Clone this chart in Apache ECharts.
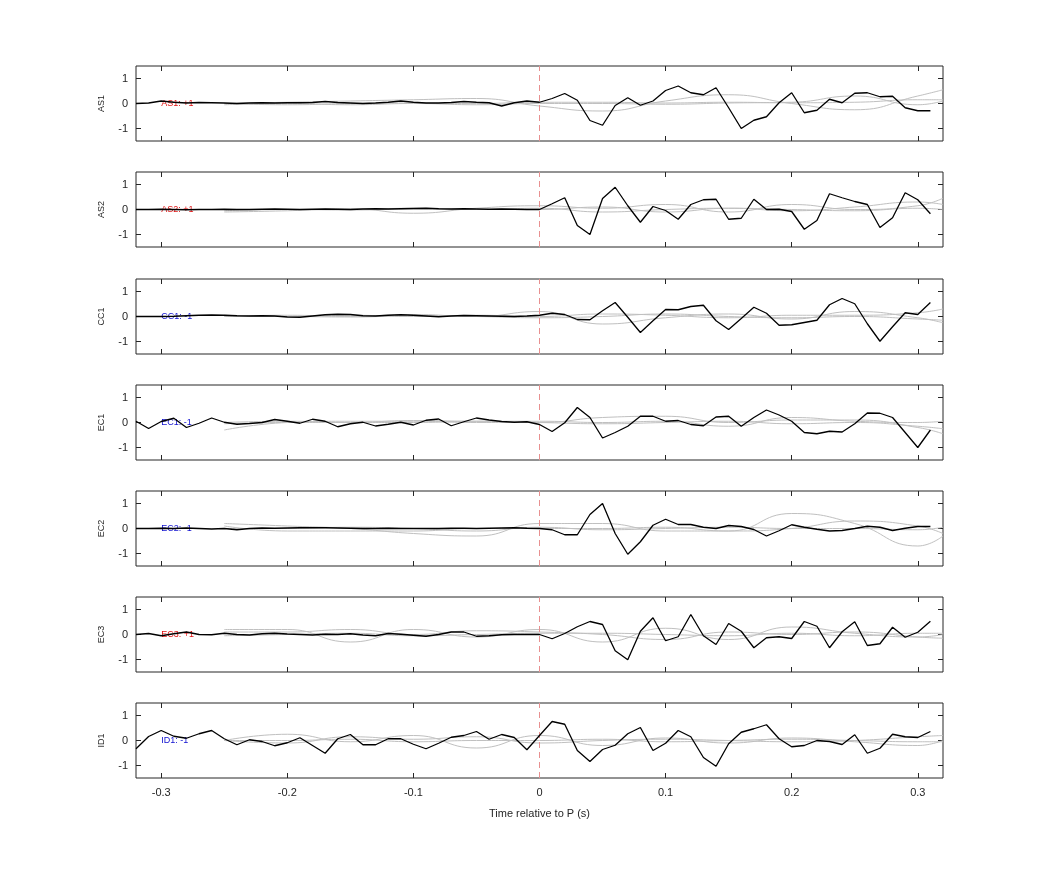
<!DOCTYPE html>
<html><head><meta charset="utf-8">
<script src="https://cdn.jsdelivr.net/npm/echarts@6/dist/echarts.min.js"></script>
<style>html,body{margin:0;padding:0;background:#fff}#c{width:1042px;height:875px}</style>
</head><body><div id="c"></div>
<script>
const times = []; for (let i = -32; i <= 31; i++) times.push(i / 100);
const stations = ['AS1','AS2','CC1','EC1','EC2','EC3','ID1'];
const polarity = ['+1','+1','-1','-1','-1','+1','-1'];
const xTicks = [-0.3,-0.2,-0.1,0,0.1,0.2,0.3];
const yTicks = [-1,0,1];
const grayT = [-0.25,-0.2,-0.15,-0.1,-0.05,0,0.05,0.1,0.15,0.2,0.25,0.3,0.32];

const AS1 = [0,0.02,0.1,0.05,0.02,0.04,0.03,0.02,0,0.02,0.03,0.02,0.03,0.03,0.04,0.08,0.04,0.02,0,0.02,0.05,0.1,0.05,0.02,0.02,0.04,0.08,0.05,0.03,-0.1,0.03,0.1,
 0.05,0.2,0.4,0.13,-0.68,-0.87,-0.08,0.23,-0.07,0.1,0.52,0.7,0.43,0.35,0.63,-0.17,-1.0,-0.67,-0.53,0.03,0.43,-0.37,-0.27,0.17,0.03,0.41,0.43,0.27,0.29,-0.17,-0.29,-0.29];
const AS2 = [0,0,0.01,0,-0.01,0,0,0.01,0,0,0.01,0.02,0.01,0,0.01,0.02,0.01,0,0.02,0.03,0.02,0.03,0.04,0.05,0.03,0.02,0.03,0.02,0.01,0.02,0.01,0,
 0,0.23,0.47,-0.64,-1.0,0.44,0.89,0.15,-0.51,0.12,-0.04,-0.39,0.2,0.39,0.41,-0.39,-0.35,0.41,0,0.01,-0.08,-0.79,-0.44,0.63,0.47,0.32,0.2,-0.72,-0.33,0.67,0.39,-0.17];
const CC1 = [0,0,0,0.01,0.03,0.05,0.06,0.05,0.03,0.02,0.03,0.02,-0.02,-0.03,0.02,0.07,0.09,0.08,0.03,0.02,0.05,0.07,0.05,0.02,-0.01,0.02,0.04,0.03,0.02,0.01,0,0.02,
 0.05,0.13,0.08,-0.12,-0.13,0.23,0.56,-0.03,-0.64,-0.17,0.28,0.27,0.4,0.45,-0.17,-0.52,-0.08,0.37,0.13,-0.35,-0.33,-0.24,-0.15,0.47,0.72,0.51,-0.29,-0.99,-0.41,0.15,0.08,0.56];
const EC1 = [0.05,-0.24,0.04,0.17,-0.2,-0.03,0.18,0.01,-0.07,-0.04,0,0.12,0.05,-0.03,0.13,0.05,-0.17,-0.05,0.01,-0.14,-0.07,0.01,-0.1,0.09,0.14,-0.13,0.03,0.18,0.1,0.04,0.01,0.03,
 -0.08,-0.36,-0.01,0.6,0.2,-0.62,-0.4,-0.15,0.25,0.25,0.05,0.08,-0.08,-0.13,0.22,0.25,-0.15,0.2,0.5,0.3,0.05,-0.4,-0.45,-0.35,-0.38,-0.05,0.38,0.37,0.2,-0.4,-1.0,-0.3];
const EC2 = [0,0,0.01,0,0.02,0,-0.02,0,-0.05,0,0.02,0.01,0.02,0.03,0.03,0.03,0.02,0.01,0,0,0.01,0,0,0,0,0.01,0.01,0,0.01,0.02,0.03,0.01,
 0,-0.05,-0.25,-0.25,0.56,1.0,-0.2,-1.03,-0.53,0.13,0.37,0.16,0.16,0.05,0,0.12,0.08,-0.04,-0.3,-0.09,0.15,0.05,-0.03,-0.1,-0.08,0,0.09,0.05,-0.08,0.01,0.08,0.08];
const EC3 = [0,0.04,-0.05,0.03,0.1,0,-0.01,0.05,0,-0.02,0.03,0.05,0.02,0,-0.02,0.01,0,0.03,-0.02,-0.05,0.04,0.01,-0.03,-0.07,0,0.1,0.1,-0.07,-0.05,-0.01,0,0,
 0,-0.17,0.04,0.31,0.52,0.4,-0.65,-1.01,0.13,0.67,-0.25,-0.09,0.8,-0.05,-0.4,0.44,0.13,-0.53,-0.13,-0.09,-0.16,0.52,0.33,-0.53,0.11,0.51,-0.44,-0.37,0.29,-0.11,0.09,0.53];
const ID1 = [-0.33,0.16,0.4,0.17,0.09,0.27,0.4,0.07,-0.17,0.03,-0.04,-0.21,-0.09,0.11,-0.2,-0.51,0.07,0.24,-0.17,-0.17,0.07,0.07,-0.15,-0.33,-0.11,0.13,0.2,0.36,0.05,0.24,0.12,-0.37,
 0.2,0.76,0.65,-0.4,-0.84,-0.36,-0.19,0.27,0.52,-0.4,-0.11,0.4,0.15,-0.68,-1.03,-0.13,0.33,0.47,0.63,0.07,-0.25,-0.2,0,-0.04,-0.16,0.23,-0.51,-0.31,0.25,0.15,0.12,0.36];
const black = [AS1,AS2,CC1,EC1,EC2,EC3,ID1];

const grayAS1 = [[0,0.05,0.1,0.15,0.2,-0.1,-0.3,0.1,0.35,0,-0.25,0.3,0.55],[0,-0.05,0,0.02,0,0.05,0.05,0.02,0.05,0.03,0.05,0.15,0.15],[-0.05,0,-0.05,0,-0.05,0,0,-0.03,0.02,0.05,0.3,-0.05,0.1]];
const grayAS2 = [[-0.1,-0.05,0.03,-0.15,0.05,0.15,0.05,0.2,-0.1,0.2,0,0.15,0.45],[-0.05,0,0,0.05,0,0.05,-0.1,0,0.05,-0.05,0.1,0.3,0.2],[0,0,-0.02,0.02,0,0,0.1,-0.1,0.05,0,-0.05,0.05,0]];
const grayCC1 = [[0,0.05,0,0.08,0,0.2,-0.3,-0.05,0.1,-0.1,0.2,-0.05,-0.25],[0.05,0,0.05,0,0.05,0,0.1,0.05,-0.05,0.05,0.05,0.15,0.3],[0,0,-0.02,0.03,0,-0.05,0,0.1,0,-0.05,0,-0.1,-0.15]];
const grayEC1 = [[-0.3,0,0.05,0.05,0,0,0.2,0.25,0,0.1,0.1,-0.2,-0.45],[-0.05,0,0,0.08,0.05,0.05,0,0.05,-0.15,0.2,0.05,0,0.05],[0,0.05,0,0,0.05,0,-0.05,0,0.05,-0.05,0,-0.15,-0.25]];
const grayEC2 = [[0.2,0.1,0,-0.2,-0.3,0.2,0.2,-0.1,-0.1,0.6,0.2,-0.7,-0.3],[0.1,-0.1,-0.1,-0.1,0,0,0,0.05,-0.1,0,0.3,0.1,-0.2],[0,0,0.05,0,-0.1,0.05,-0.05,0,0.05,0,0,-0.05,0.05]];
const grayEC3 = [[0.2,0.2,-0.3,0.2,-0.1,0.2,-0.3,0.25,-0.2,0.3,0.05,-0.1,0],[0.1,0.1,0.2,0,0.15,0.1,0,-0.2,0.1,0,0.1,-0.1,-0.15],[-0.05,0,0.05,-0.05,0,0.05,0.05,0,-0.05,0.05,-0.05,0.05,0.05]];
const grayID1 = [[0,0.25,-0.05,0.2,-0.3,0.2,-0.2,0.1,-0.1,0.1,-0.05,-0.2,0],[0,-0.1,0.15,0.05,0.15,-0.1,0,0.05,0,-0.05,0,0.15,0.2],[0,0,0.05,-0.05,0,0,0.05,-0.05,0,0.05,0,-0.05,-0.05]];
const gray = [grayAS1,grayAS2,grayCC1,grayEC1,grayEC2,grayEC3,grayID1];

const tops = [66,172,279,385,491,597,703];
const grids = [], xAxes = [], yAxes = [], series = [];
const ax = {color:'#262626', fontSize:11, fontFamily:'Liberation Sans'};
stations.forEach((s, i) => {
  grids.push({left:136, width:807, top:tops[i], height:75, show:true, borderColor:'#262626', borderWidth:1});
  const last = i === stations.length - 1;
  const xb = {type:'value', gridIndex:i, min:-0.32, max:0.32, splitLine:{show:false},
    axisLine:{show:false, onZero:false}, axisTick:{inside:true, length:5, customValues:xTicks, lineStyle:{color:'#262626'}}};
  xAxes.push(Object.assign({}, xb, {position:'bottom',
    axisLabel:{show:last, customValues:xTicks, formatter:v=>String(Math.round(v*10)/10), margin:9, ...ax},
    name:last?'Time relative to P (s)':'', nameLocation:'middle', nameGap:30, nameTextStyle:{color:'#262626', fontSize:11, fontFamily:'Liberation Sans'}}));
  xAxes.push(Object.assign({}, xb, {position:'top', axisLabel:{show:false}}));
  const yb = {type:'value', gridIndex:i, min:-1.5, max:1.5, splitLine:{show:false},
    axisLine:{show:false, onZero:false}, axisTick:{inside:true, length:5, customValues:yTicks, lineStyle:{color:'#262626'}}};
  yAxes.push(Object.assign({}, yb, {position:'left',
    axisLabel:{customValues:yTicks, margin:8, ...ax},
    name:s, nameLocation:'middle', nameRotate:90, nameGap:30, nameTextStyle:{color:'#262626', fontSize:9, fontFamily:'Liberation Sans'}}));
  yAxes.push(Object.assign({}, yb, {position:'right', axisLabel:{show:false}}));
  gray[i].forEach(g => series.push({type:'line', xAxisIndex:2*i, yAxisIndex:2*i, smooth:0.5, symbol:'none',
    data:grayT.map((t,k)=>[t,g[k]]), lineStyle:{color:'#c0c0c0', width:1}, silent:true}));
  const col = polarity[i] === '+1' ? '#e01010' : '#1010d0';
  series.push({type:'line', xAxisIndex:2*i, yAxisIndex:2*i, symbol:'none',
    data:times.map((t,k)=>[t,black[i][k]]), lineStyle:{color:'#000', width:1.3}, z:5,
    markLine:{silent:true, symbol:'none', label:{show:false}, lineStyle:{color:'#e89090', type:[6,4], width:1}, data:[{xAxis:0}]},
    markPoint:{symbol:'circle', symbolSize:0, data:[{coord:[-0.3,0]}],
      label:{show:true, position:'right', distance:0, formatter:s+': '+polarity[i], color:col, fontSize:9, fontFamily:'Liberation Sans'}}});
});
const chart = echarts.init(document.getElementById('c'));
chart.setOption({animation:false, backgroundColor:'#fff', grid:grids, xAxis:xAxes, yAxis:yAxes, series});
</script></body></html>
